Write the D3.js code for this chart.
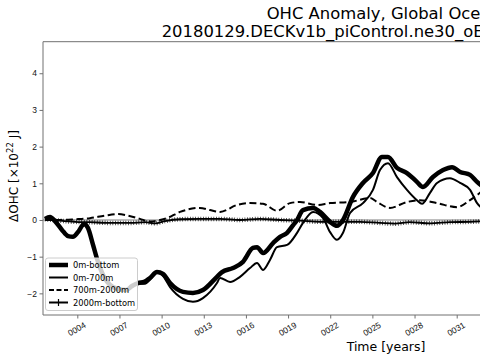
<!DOCTYPE html>
<html>
<head>
<meta charset="utf-8">
<script src="https://cdn.jsdelivr.net/npm/d3@7"></script>
<style>
  html, body { margin: 0; padding: 0; background: #fff; }
  svg { display: block; font-family: "DejaVu Sans", sans-serif; }
</style>
</head>
<body>
<svg id="chart" width="480" height="360"></svg>
<script>
// ---------- data ----------
const titleLines = ["OHC Anomaly, Global Ocean", "20180129.DECKv1b_piControl.ne30_oECv3_ICG.edison"];
const xLabel = "Time [years]";
const seriesNames = ["0m-bottom", "0m-700m", "700m-2000m", "2000m-bottom"];

const xTickValues = [4, 7, 10, 13, 16, 19, 22, 25, 28, 31];
const xTickLabels = ["0004", "0007", "0010", "0013", "0016", "0019", "0022", "0025", "0028", "0031"];
const yTickValues = [-2, -1, 0, 1, 2, 3, 4];

const timeBottom = [1.70, 2.06, 2.41, 2.91, 3.34, 3.69, 4.05, 4.48, 4.76, 5.12, 5.47, 5.90, 6.33, 6.90, 7.47, 7.89, 8.32, 8.75, 9.17, 9.67, 10.10, 10.60, 11.52, 12.23, 12.94, 13.94, 14.30, 15.08, 15.79, 16.50, 16.79, 17.22, 17.93, 18.43, 18.93, 19.36, 19.64, 20.06, 20.78, 21.27, 21.99, 22.48, 22.91, 23.62, 24.33, 25.04, 25.68, 26.11, 26.75, 27.46, 28.17, 28.60, 29.31, 30.03, 30.67, 31.24, 31.95, 32.45, 33.0];
const ohcBottom = [0.03, 0.08, -0.03, -0.27, -0.44, -0.46, -0.33, -0.11, -0.22, -0.68, -1.14, -1.55, -1.77, -1.88, -1.91, -1.80, -1.72, -1.69, -1.58, -1.42, -1.47, -1.72, -1.96, -1.99, -1.91, -1.55, -1.42, -1.31, -1.14, -0.76, -0.74, -0.90, -0.63, -0.46, -0.35, -0.14, 0.0, 0.27, 0.33, 0.22, -0.05, -0.16, 0.0, 0.63, 1.01, 1.28, 1.72, 1.72, 1.42, 1.28, 1.04, 0.90, 1.17, 1.36, 1.44, 1.31, 1.23, 1.04, 0.87];

const time700 = [1.70, 2.06, 2.41, 2.91, 3.34, 3.69, 4.05, 4.48, 4.76, 5.12, 5.47, 5.90, 6.33, 6.90, 7.47, 7.89, 8.32, 8.75, 9.17, 9.67, 10.10, 10.60, 11.52, 12.23, 12.94, 13.94, 14.16, 14.87, 15.58, 16.29, 16.79, 17.22, 17.71, 18.21, 18.93, 19.64, 20.06, 20.78, 21.49, 21.99, 22.48, 22.91, 23.41, 24.33, 25.04, 25.54, 26.11, 26.75, 27.46, 28.17, 28.53, 29.10, 29.60, 30.52, 31.24, 31.95, 32.45, 33.0];
const ohc700 = [0.03, 0.08, -0.03, -0.27, -0.44, -0.46, -0.33, -0.14, -0.25, -0.71, -1.17, -1.58, -1.80, -1.91, -1.93, -1.83, -1.74, -1.74, -1.63, -1.42, -1.53, -1.83, -2.15, -2.23, -2.13, -1.72, -1.58, -1.69, -1.55, -1.31, -1.17, -1.36, -1.09, -0.74, -0.68, -0.35, -0.08, 0.22, 0.05, -0.33, -0.54, -0.35, 0.19, 0.46, 0.82, 1.36, 1.55, 1.17, 0.82, 0.54, 0.44, 0.74, 1.01, 1.14, 1.01, 0.82, 0.46, 0.27];

const time2000 = [1.70, 2.77, 3.84, 4.90, 5.97, 6.90, 7.61, 8.46, 9.17, 9.89, 10.38, 11.31, 12.73, 13.44, 14.16, 15.37, 16.29, 17.22, 18.21, 19.14, 19.85, 21.06, 21.99, 23.41, 24.83, 25.33, 26.25, 27.46, 28.38, 29.60, 31.02, 31.95, 32.66, 33.1];
const ohc2000 = [0.0, 0.0, 0.02, 0.05, 0.12, 0.16, 0.12, 0.03, -0.04, 0.0, 0.05, 0.22, 0.33, 0.27, 0.22, 0.41, 0.46, 0.44, 0.25, 0.46, 0.49, 0.41, 0.46, 0.49, 0.60, 0.49, 0.33, 0.49, 0.54, 0.46, 0.35, 0.54, 0.74, 0.87];

const timeDeep = [1.70, 2.77, 3.84, 4.90, 6.33, 7.75, 8.82, 9.53, 10.24, 11.31, 12.73, 14.16, 15.58, 17.0, 18.43, 19.85, 21.27, 22.70, 24.12, 25.54, 26.60, 27.67, 29.10, 30.52, 31.95, 33.1];
const ohcDeep = [0.02, -0.02, -0.05, -0.06, -0.08, -0.08, -0.06, -0.09, -0.03, 0.02, 0.03, 0.03, 0.0, 0.03, 0.0, -0.02, -0.05, -0.05, -0.05, -0.08, -0.10, -0.06, -0.09, -0.06, -0.05, -0.03];

// ---------- layout ----------
const svg = d3.select("#chart");
const padL = 43, padR = 729, padT = 41.7, padB = 315;

const x = d3.scaleLinear().domain([4, 31]).range([77.3, 456.7]);
const y = d3.scaleLinear().domain([-2.59, 4.86]).range([padB, padT]);

svg.append("defs").append("clipPath").attr("id", "plotclip")
  .append("rect").attr("x", padL).attr("y", padT).attr("width", padR - padL).attr("height", padB - padT);

const plot = svg.append("g").attr("clip-path", "url(#plotclip)");

// zero reference line
plot.append("line").attr("x1", padL).attr("x2", padR).attr("y1", y(0)).attr("y2", y(0))
  .attr("stroke", "#808080").attr("stroke-width", 1);

const mk = (t, v) => t.map((d, i) => [d, v[i]]);
const line = d3.line().x(d => x(d[0])).y(d => y(d[1])).curve(d3.curveMonotoneX);

const dataBottom = mk(timeBottom, ohcBottom);
const data700 = mk(time700, ohc700);
const data2000 = mk(time2000, ohc2000);
const dataDeep = mk(timeDeep, ohcDeep);

plot.append("path").attr("d", line(data2000)).attr("fill", "none")
  .attr("stroke", "#000").attr("stroke-width", 2).attr("stroke-dasharray", "7,3.5");
plot.append("path").attr("d", line(dataDeep)).attr("fill", "none")
  .attr("stroke", "#000").attr("stroke-width", 1.8);
plot.append("path").attr("d", line(dataDeep)).attr("fill", "none")
  .attr("stroke", "#000").attr("stroke-width", 4.5).attr("stroke-opacity", 0.8).attr("stroke-dasharray", "0.8,1.8");
plot.append("path").attr("d", line(data700)).attr("fill", "none")
  .attr("stroke", "#000").attr("stroke-width", 2);
plot.append("path").attr("d", line(dataBottom)).attr("fill", "none")
  .attr("stroke", "#000").attr("stroke-width", 4.5).attr("stroke-linejoin", "round");

// ---------- axes ----------
const axisColor = "#707070";
const gx = svg.append("g").attr("transform", `translate(0,${padB})`)
  .call(d3.axisBottom(x).tickValues(xTickValues).tickFormat((d, i) => xTickLabels[i]).tickSize(3.5).tickSizeOuter(0));
gx.select(".domain").remove();
gx.selectAll(".tick line").attr("stroke", axisColor);
gx.selectAll(".tick text").attr("font-size", 8.5).attr("fill", "#111")
  .attr("y", 0).attr("dy", 0)
  .attr("text-anchor", "middle").attr("dominant-baseline", "central")
  .attr("transform", "translate(-1,14) rotate(-30)");

const gy = svg.append("g").attr("transform", `translate(${padL},0)`)
  .call(d3.axisLeft(y).tickValues(yTickValues).tickFormat(d => d < 0 ? "\u2212" + Math.abs(d) : String(d)).tickSize(3.5).tickSizeOuter(0));
gy.select(".domain").remove();
gy.selectAll(".tick line").attr("stroke", axisColor);
gy.selectAll(".tick text").attr("font-size", 8.5).attr("fill", "#111").attr("x", -6);

// spines
svg.append("line").attr("x1", padL).attr("x2", padL).attr("y1", padT).attr("y2", padB).attr("stroke", axisColor).attr("stroke-width", 1);
svg.append("line").attr("x1", padL).attr("x2", padR).attr("y1", padB).attr("y2", padB).attr("stroke", axisColor).attr("stroke-width", 1);
svg.append("line").attr("x1", padL).attr("x2", padR).attr("y1", padT).attr("y2", padT).attr("stroke", axisColor).attr("stroke-width", 1);

// ---------- labels ----------
svg.append("text").attr("x", 266.7).attr("y", 18.5).attr("font-size", 16.4).attr("fill", "#000").text(titleLines[0]);
svg.append("text").attr("x", 161.7).attr("y", 37).attr("font-size", 16.4).attr("fill", "#000").text(titleLines[1]);

svg.append("text").attr("x", 386).attr("y", 351).attr("text-anchor", "middle").attr("font-size", 12.5).attr("fill", "#000").text(xLabel);

const yl = svg.append("text").attr("transform", "translate(18,176) rotate(-90)")
  .attr("text-anchor", "middle").attr("font-size", 12).attr("fill", "#000");
yl.append("tspan").text("\u0394OHC [\u00d710");
yl.append("tspan").attr("font-size", 8.5).attr("dy", -5).text("22");
yl.append("tspan").attr("dy", 5).text(" J]");

// ---------- legend ----------
const lg = svg.append("g");
lg.append("rect").attr("x", 45.5).attr("y", 258).attr("width", 92).attr("height", 52.5).attr("rx", 2.5)
  .attr("fill", "#fff").attr("fill-opacity", 0.8).attr("stroke", "#cccccc").attr("stroke-width", 1);
const rows = [265, 277.5, 290, 302.5];
const styles = [
  { w: 4.5, dash: null },
  { w: 2, dash: null },
  { w: 2, dash: "5,2.5" },
  { w: 2, dash: null, marker: true }
];
seriesNames.forEach((name, i) => {
  const s = styles[i];
  const l = lg.append("line").attr("x1", 49).attr("x2", 68).attr("y1", rows[i]).attr("y2", rows[i])
    .attr("stroke", "#000").attr("stroke-width", s.w);
  if (s.dash) l.attr("stroke-dasharray", s.dash);
  if (s.marker) {
    lg.append("line").attr("x1", 58.5).attr("x2", 58.5).attr("y1", rows[i] - 3.5).attr("y2", rows[i] + 3.5)
      .attr("stroke", "#000").attr("stroke-width", 1.2);
  }
  lg.append("text").attr("x", 73).attr("y", rows[i]).attr("dominant-baseline", "central")
    .attr("font-size", 8.3).attr("fill", "#000").text(name);
});
</script>
</body>
</html>
